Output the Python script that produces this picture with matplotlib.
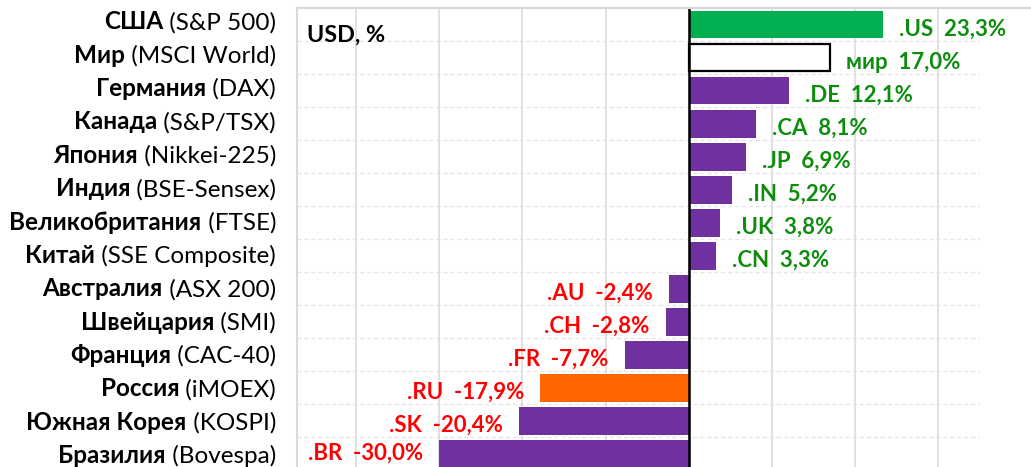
import matplotlib
matplotlib.use("Agg")
import matplotlib.pyplot as plt
from matplotlib.lines import Line2D

plt.rcParams['font.family'] = ['Lato', 'DejaVu Sans']

# data, top to bottom
countries = ['США', 'Мир', 'Германия', 'Канада', 'Япония', 'Индия', 'Великобритания',
             'Китай', 'Австралия', 'Швейцария', 'Франция', 'Россия', 'Южная Корея', 'Бразилия']
indices = ['S&P 500', 'MSCI World', 'DAX', 'S&P/TSX', 'Nikkei-225', 'BSE-Sensex', 'FTSE',
           'SSE Composite', 'ASX 200', 'SMI', 'CAC-40', 'iMOEX', 'KOSPI', 'Bovespa']
codes = ['.US', 'мир', '.DE', '.CA', '.JP', '.IN', '.UK', '.CN', '.AU', '.CH', '.FR', '.RU', '.SK', '.BR']
values = [23.3, 17.0, 12.1, 8.1, 6.9, 5.2, 3.8, 3.3, -2.4, -2.8, -7.7, -17.9, -20.4, -30.0]
unit_label = 'USD, %'

W, H, DPI = 1031, 467, 100
PT = 72.0 / DPI  # points per pixel

PURPLE = '#7030A0'
GREEN_BAR = '#00B050'
ORANGE = '#FF6600'
GRID = '#D9D9D9'


def bar_color(code):
    if code == '.US':
        return GREEN_BAR
    if code == 'мир':
        return 'white'
    if code == '.RU':
        return ORANGE
    return PURPLE


fig = plt.figure(figsize=(W / DPI, H / DPI), dpi=DPI)
ax_l, ax_r, ax_t, ax_b = 297, 980, 8, 470.5
ax = fig.add_axes([ax_l / W, (H - ax_b) / H, (ax_r - ax_l) / W, (ax_b - ax_t) / H])
row_h = (ax_b - ax_t) / len(values)

n = len(values)
ypos = list(range(n))
for y, v, c in zip(ypos, values, codes):
    col = bar_color(c)
    if col == 'white':
        ax.barh(y, v, height=0.84, color='white', edgecolor='black', linewidth=1.6, zorder=3)
    else:
        ax.barh(y, v, height=0.84, color=col, linewidth=0, zorder=3)

ax.set_xlim(-47.1, 35)
ax.set_ylim(n - 0.5, -0.5)
ax.set_xticks(range(-40, 31, 10))
ax.set_yticks([])
ax.tick_params(axis='x', length=0, labelbottom=False)
ax.grid(axis='x', color=GRID, linewidth=1.1, zorder=0)
for y in range(n):
    ax.axhline(y + 0.5, color='#E6E6E6', linewidth=1.0, linestyle=(0, (3, 2)), zorder=0)
for s in ax.spines.values():
    s.set_visible(False)
ax.axvline(0, color='black', linewidth=1.8, zorder=4)

# chart border
fig.add_artist(Line2D([ax_l / W, 1], [1 - ax_t / H] * 2, transform=fig.transFigure, color=GRID, lw=1.5))
fig.add_artist(Line2D([ax_l / W] * 2, [1 - ax_t / H, 0], transform=fig.transFigure, color=GRID, lw=1.5))

# value labels (kept inside the chart like Excel does)
for y, v, c in zip(ypos, values, codes):
    txt = '{}  {}%'.format(c, ('%.1f' % v).replace('.', ','))
    centre = ax_t + (y + 0.5) * row_h
    dy = min(11.0, H - 7 - centre)
    if v >= 0:
        ax.annotate(txt, (v, y), xytext=(16 * PT, -dy * PT), textcoords='offset points',
                    ha='left', va='baseline', color='#0E8C0E', fontsize=16, fontweight='bold')
    else:
        ax.annotate(txt, (v, y), xytext=(-16 * PT, -dy * PT), textcoords='offset points',
                    ha='right', va='baseline', color='#FF0000', fontsize=16, fontweight='bold')

ax.text(306.7 / W, 1 - 41.7 / H, unit_label, transform=fig.transFigure, ha='left', va='baseline',
        fontsize=16.8, fontweight='bold', color='black')

# category labels: bold country + regular index
renderer = fig.canvas.get_renderer()
x_off = -(ax_l - 276) * PT
for y, name, idx in zip(ypos, countries, indices):
    dy = 4.8 + 0.33 * y
    t = ax.annotate(' (' + idx + ')', (0, y), xycoords=('axes fraction', 'data'),
                    xytext=(x_off, -dy * PT), textcoords='offset points',
                    ha='right', va='baseline', fontsize=17.5, color='black')
    w = t.get_window_extent(renderer).width
    ax.annotate(name, (0, y), xycoords=('axes fraction', 'data'),
                xytext=(x_off - w * PT, -dy * PT), textcoords='offset points',
                ha='right', va='baseline', fontsize=17.5, fontweight='bold', color='black')

fig.savefig('out.png', dpi=DPI)
